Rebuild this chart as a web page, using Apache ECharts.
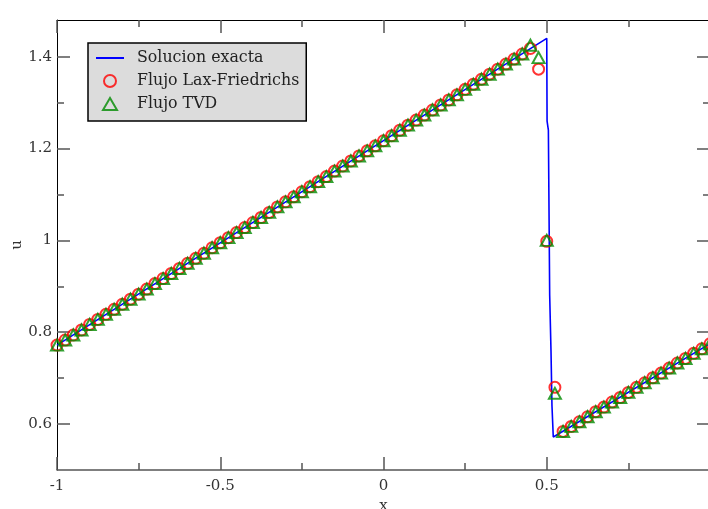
<!DOCTYPE html>
<html><head><meta charset="utf-8">
<script src="https://cdn.jsdelivr.net/npm/echarts@6/dist/echarts.min.js"></script>
<style>html,body{margin:0;padding:0;background:#fff}#c{width:708px;height:509px}</style>
</head><body><div id="c"></div>
<script>
// grid nodes
const xNodes = [-1,-0.975,-0.95,-0.925,-0.9,-0.875,-0.85,-0.825,-0.8,-0.775,-0.75,-0.725,-0.7,-0.675,-0.65,-0.625,-0.6,-0.575,-0.55,-0.525,-0.5,-0.475,-0.45,-0.425,-0.4,-0.375,-0.35,-0.325,-0.3,-0.275,-0.25,-0.225,-0.2,-0.175,-0.15,-0.125,-0.1,-0.075,-0.05,-0.025,0,0.025,0.05,0.075,0.1,0.125,0.15,0.175,0.2,0.225,0.25,0.275,0.3,0.325,0.35,0.375,0.4,0.425,0.45,0.475,0.5,0.525,0.55,0.575,0.6,0.625,0.65,0.675,0.7,0.725,0.75,0.775,0.8,0.825,0.85,0.875,0.9,0.925,0.95,0.975,1];
// Lax-Friedrichs values
const uLF = [0.772,0.783,0.794,0.805,0.817,0.828,0.839,0.850,0.861,0.872,
0.883,0.894,0.906,0.917,0.928,0.939,0.950,0.961,0.972,0.984,
0.995,1.006,1.017,1.028,1.039,1.050,1.061,1.073,1.084,1.095,
1.106,1.117,1.128,1.139,1.151,1.162,1.173,1.184,1.195,1.206,
1.217,1.228,1.240,1.251,1.262,1.273,1.284,1.295,1.306,1.317,
1.329,1.340,1.351,1.362,1.373,1.384,1.395,1.406,1.418,1.373,
0.998,0.680,0.584,0.595,0.605,0.616,0.627,0.637,0.648,0.658,
0.669,0.680,0.690,0.701,0.711,0.722,0.733,0.743,0.754,0.764,
0.775];
// TVD values
const uTVD = [0.772,0.783,0.794,0.805,0.817,0.828,0.839,0.850,0.861,0.872,
0.883,0.894,0.906,0.917,0.928,0.939,0.950,0.961,0.972,0.984,
0.995,1.006,1.017,1.028,1.039,1.050,1.061,1.073,1.084,1.095,
1.106,1.117,1.128,1.139,1.151,1.162,1.173,1.184,1.195,1.206,
1.217,1.228,1.240,1.251,1.262,1.273,1.284,1.295,1.306,1.317,
1.329,1.340,1.351,1.362,1.373,1.384,1.395,1.406,1.425,1.398,
1.000,0.667,0.584,0.595,0.605,0.616,0.627,0.637,0.648,0.658,
0.669,0.680,0.690,0.701,0.711,0.722,0.733,0.743,0.754,0.764,
0.775];
// exact solution
const xExact = [-1, 0.5, 0.501, 0.505, 0.509, 0.513, 0.516, 0.52, 1];
const uExact = [0.772, 1.44, 1.26, 1.24, 0.88, 0.76, 0.64, 0.572, 0.775];
// ticks
const xMajor = [-1, -0.5, 0, 0.5, 1];
const xMajorLabels = ['-1', '-0.5', '0', '0.5', ''];
const xMinor = [-0.75, -0.25, 0.25, 0.75];
const yMajor = [0.6, 0.8, 1, 1.2, 1.4];
const yMajorLabels = ['0.6','0.8','1','1.2','1.4'];
const yMinor = [0.7, 0.9, 1.1, 1.3];
const seriesNames = ['Solucion exacta','Flujo Lax-Friedrichs','Flujo TVD'];

const FONT = 'DejaVu Serif';
const chart = echarts.init(document.getElementById('c'), null, {renderer:'canvas'});
const zip = (a,b) => a.map((v,i)=>[v,b[i]]);
const lab = (vals, labels) => (v) => { const i = vals.findIndex(m=>Math.abs(m-v)<1e-9); return i<0 ? '' : labels[i]; };
const tickCol = '#555';
const xBase = {type:'value', min:-1, max:1, interval:0.5, splitLine:{show:false}, minorSplitLine:{show:false}, gridIndex:0};
const yBase = {type:'value', min:0.5, max:1.48, interval:0.1, splitLine:{show:false}, gridIndex:0};
function ax(base, extra){ return Object.assign({}, base, extra); }
function ticks(vals, len){ return {show:true, inside:true, length:len, customValues:vals, lineStyle:{color:tickCol, width:1.5}}; }
const noLine = {show:false, onZero:false};
chart.setOption({
  animation:false,
  backgroundColor:'#fff',
  grid:{left:57, top:20, width:653, height:450, containLabel:false, outerBoundsMode:'none'},
  legend:{
    orient:'vertical', left:88, top:43,
    backgroundColor:'#dcdcdc', borderColor:'#000', borderWidth:1.5, borderRadius:0,
    padding:[7,7,9,8], itemWidth:28, itemHeight:12, itemGap:7,
    textStyle:{fontFamily:FONT, fontSize:15.8, color:'#222', lineHeight:16, padding:[0,0,0,8]},
    data:[
      {name:seriesNames[0], icon:'path://M0,0L28,0L28,2L0,2Z', itemStyle:{color:'#0000ff', borderWidth:0}},
      {name:seriesNames[1], icon:'circle', itemStyle:{color:'rgba(0,0,0,0)', borderColor:'#ff0000', borderWidth:2}},
      {name:seriesNames[2], icon:'path://M0,0L7,-12L14,0Z', itemStyle:{color:'rgba(0,0,0,0)', borderColor:'#008b00', borderWidth:2}}
    ]
  },
  xAxis:[
    ax(xBase, {position:'bottom',
     axisLine:{show:true, onZero:false, lineStyle:{color:tickCol, width:1.5}},
     axisTick:ticks(xMajor, 13),
     axisLabel:{customValues:xMajor, margin:9, fontFamily:FONT, fontSize:15, color:'#333', formatter:lab(xMajor, xMajorLabels)},
     name:'x', nameLocation:'middle', nameGap:21,
     nameTextStyle:{fontFamily:FONT, fontSize:15, color:'#333'}}),
    ax(xBase, {position:'bottom', axisLine:noLine, axisTick:ticks(xMinor, 7), axisLabel:{show:false}}),
    ax(xBase, {position:'top',
     axisLine:{show:true, onZero:false, lineStyle:{color:'#000', width:1}},
     axisTick:ticks(xMajor, 13), axisLabel:{show:false}}),
    ax(xBase, {position:'top', axisLine:noLine, axisTick:ticks(xMinor, 7), axisLabel:{show:false}})
  ],
  yAxis:[
    ax(yBase, {position:'left',
     axisLine:{show:true, onZero:false, lineStyle:{color:'#000', width:1}},
     axisTick:ticks(yMajor, 13),
     axisLabel:{customValues:yMajor, margin:5, fontFamily:FONT, fontSize:15, color:'#333', formatter:lab(yMajor, yMajorLabels)},
     name:'u', nameLocation:'middle', nameGap:32, nameRotate:90, nameMoveOverlap:false,
     nameTextStyle:{fontFamily:FONT, fontSize:15, color:'#333'}}),
    ax(yBase, {position:'left', axisLine:noLine, axisTick:ticks(yMinor, 7), axisLabel:{show:false}}),
    ax(yBase, {position:'right',
     axisLine:{show:true, onZero:false, lineStyle:{color:'#000', width:1}},
     axisTick:ticks(yMajor, 13), axisLabel:{show:false}}),
    ax(yBase, {position:'right', axisLine:noLine, axisTick:ticks(yMinor, 7), axisLabel:{show:false}})
  ],
  series:[
    {name:seriesNames[0], type:'line', xAxisIndex:0, yAxisIndex:0, data:zip(xExact,uExact),
     symbol:'none', showSymbol:false, lineStyle:{color:'#0000ff', width:1.6}, itemStyle:{color:'#0000ff'}, z:1, silent:true},
    {name:seriesNames[1], type:'scatter', xAxisIndex:0, yAxisIndex:0, data:zip(xNodes,uLF),
     symbol:'circle', symbolSize:11, itemStyle:{color:'rgba(0,0,0,0)', borderColor:'#ff0000', borderWidth:2}, z:2, silent:true},
    {name:seriesNames[2], type:'scatter', xAxisIndex:0, yAxisIndex:0, data:zip(xNodes,uTVD),
     symbol:'triangle', symbolSize:[12,11], itemStyle:{color:'rgba(0,0,0,0)', borderColor:'#008b00', borderWidth:2}, z:3, silent:true}
  ]
});
</script></body></html>
